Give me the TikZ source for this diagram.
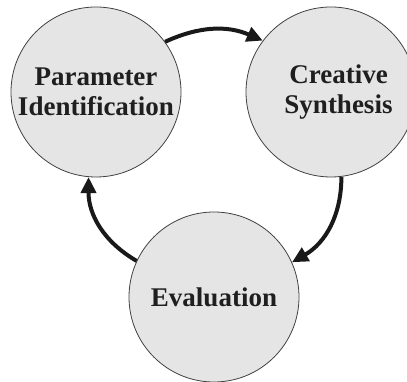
\documentclass[tikz,border=0pt]{standalone}
\usepackage{fontspec}
\setmainfont{Liberation Serif}
\usetikzlibrary{arrows.meta}

\begin{document}
\begin{tikzpicture}[x=1pt, y=1pt,
	stage/.style={circle, draw=black!75, line width=0.8pt, fill=black!10, minimum size=170pt, inner sep=0pt, align=center, text=black!88, font=\fontsize{27}{30}\selectfont\bfseries},
	flow/.style={line width=4pt, black!90, -{Triangle[length=16pt,width=15pt]}}]
\useasboundingbox (0,0) rectangle (407,382);

%Stages
\node[stage] (param) at (96,290) {Parameter\\Identification};
\node[stage] (synth) at (331,290) {\hspace*{15pt}Creative\\\hspace*{15pt}Synthesis};
\node[stage] (eval) at (214,85) {Evaluation};

%Cycle
\draw[flow] (param.36) to[bend left=24] (synth.143);
\draw[flow] (synth.-83) to[bend left=30] (eval.24);
\draw[flow] (eval.155) to[bend left=30] (param.-95);

\end{tikzpicture}
\end{document}
